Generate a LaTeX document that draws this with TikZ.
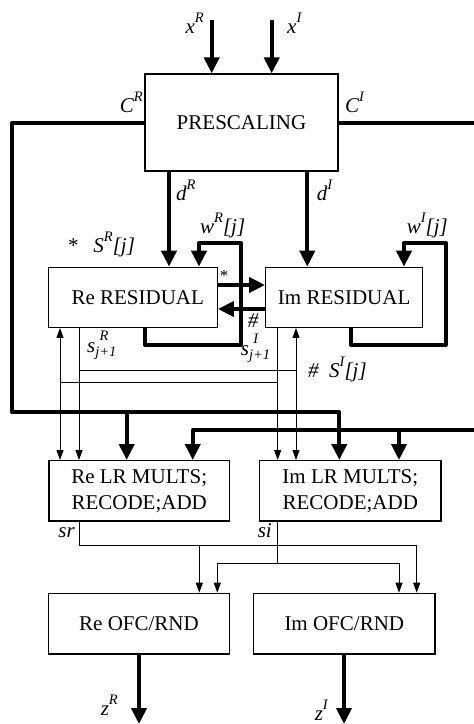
\documentclass[tikz,border=0pt]{standalone}
\usepackage{fontspec}
\setmainfont{Liberation Serif}
\usetikzlibrary{arrows.meta}
\newcommand{\Sup}[1]{\raisebox{0.5em}{\fontsize{14.5}{14.5}\selectfont\textit{#1}}}
\newcommand{\SupSub}[2]{\makebox[0pt][l]{\raisebox{0.55em}{\fontsize{14.5}{14.5}\selectfont\hspace{0.3em}\textit{#1}}}\raisebox{-0.2em}{\fontsize{14.5}{14.5}\selectfont\textit{#2}}}
\begin{document}
\begin{tikzpicture}[x=1pt,y=-1pt,
  font=\fontsize{21}{26}\selectfont,
  box/.style={draw,line width=1.3pt,inner sep=0pt,align=center},
  thickline/.style={line width=4pt,line join=round},
  bigarr/.style={thickline,-{Triangle[length=16pt,width=15pt]}},
  thinline/.style={line width=1pt},
  smallarr/.style={thinline,-{Triangle[length=10pt,width=7pt]}},
  dblarr/.style={thinline,{Triangle[length=10pt,width=7pt]}-{Triangle[length=10pt,width=7pt]}},
  lbl/.style={inner sep=0pt,font=\fontsize{21}{26}\selectfont\itshape}
]
\useasboundingbox (0,0) rectangle (474,724);

% boxes
\node[box,minimum width=193pt,minimum height=97pt] (pre) at (241.5,122.5) {PRESCALING};
\node[box,minimum width=169pt,minimum height=60pt] (reres) at (132.8,297.3) {\hspace*{10pt}Re RESIDUAL};
\node[box,minimum width=157pt,minimum height=60pt] (imres) at (344.2,297.3) {Im RESIDUAL};
\node[box,minimum width=180.3pt,minimum height=60.3pt] (relr) at (139.2,490.8) {Re LR MULTS;\\RECODE;ADD};
\node[box,minimum width=181.3pt,minimum height=60.3pt] (imlr) at (350.3,490.8) {Im LR MULTS;\\RECODE;ADD};
\node[box,minimum width=181.4pt,minimum height=60.7pt] (reofc) at (139,623.7) {Re OFC/RND};
\node[box,minimum width=181.3pt,minimum height=60.7pt] (imofc) at (344.3,623.7) {Im OFC/RND};

% inputs
\coordinate (xR) at (211.7,20);
\coordinate (xI) at (271.7,20);
\draw[bigarr] (xR) -- (xR |- pre.north);
\draw[bigarr] (xI) -- (xI |- pre.north);

% C^R bus
\coordinate (crL) at (12.3,412.3);
\coordinate (crR) at (339.3,412.3);
\coordinate (crB) at (126.7,412.3);
\draw[bigarr] (pre.west) -| (crL) -- (crR) -- (crR |- imlr.north);
\draw[bigarr] (crB) -- (crB |- relr.north);

% C^I bus
\coordinate (ciE) at (476,122.5);
\draw[thickline] (pre.east) -- (ciE);
\coordinate (ciR) at (476,430);
\coordinate (ciL) at (192.7,430);
\coordinate (ciB) at (399,430);
\draw[bigarr] (ciR) -- (ciL) -- (ciL |- relr.north);
\draw[bigarr] (ciB) -- (ciB |- imlr.north);

% d
\coordinate (dR) at (169,0);
\coordinate (dI) at (307.3,0);
\draw[bigarr] (pre.south -| dR) -- (reres.north -| dR);
\draw[bigarr] (pre.south -| dI) -- (imres.north -| dI);

% w loops
\coordinate (wR1) at (145,345);
\coordinate (wR2) at (240.7,242.7);
\coordinate (wR3) at (199,242.7);
\draw[bigarr] (reres.south -| wR1) -- (wR1) -| (wR2) -- (wR3) -- (wR3 |- reres.north);
\coordinate (wI1) at (350.7,345);
\coordinate (wI2) at (445.7,242.7);
\coordinate (wI3) at (404,242.7);
\draw[bigarr] (imres.south -| wI1) -- (wI1) -| (wI2) -- (wI3) -- (wI3 |- imres.north);

% cross arrows
\coordinate (ri) at (0,285);
\coordinate (ir) at (0,309);
\draw[bigarr] (reres.east |- ri) -- (imres.west |- ri);
\draw[bigarr] (imres.west |- ir) -- (reres.east |- ir);

% thin residual connections
\coordinate (a1) at (79,370.7);
\coordinate (a2) at (296,370.7);
\coordinate (b1) at (60,382.3);
\coordinate (b2) at (277.7,382.3);
\draw[smallarr] (reres.south -| a1) -- (relr.north -| a1);
\draw[thinline] (a1) -- (a2);
\draw[dblarr] (imres.south -| a2) -- (imlr.north -| a2);
\draw[smallarr] (imres.south -| b2) -- (imlr.north -| b2);
\draw[thinline] (b1) -- (b2);
\draw[dblarr] (reres.south -| b1) -- (relr.north -| b1);

% sr, si
\coordinate (sr1) at (79,545);
\coordinate (sr2) at (416.7,545);
\coordinate (sr3) at (199.3,545);
\draw[smallarr] (relr.south -| sr1) -- (sr1) -- (sr2) -- (sr2 |- imofc.north);
\draw[smallarr] (sr3) -- (sr3 |- reofc.north);
\coordinate (si1) at (277.7,563.3);
\coordinate (si2) at (217.3,563.3);
\coordinate (si3) at (399,563.3);
\draw[thinline] (imlr.south -| si1) -- (si1);
\draw[smallarr] (si1) -- (si2) -- (si2 |- reofc.north);
\draw[smallarr] (si1) -- (si3) -- (si3 |- imofc.north);

% outputs
\coordinate (zR) at (139,724);
\coordinate (zI) at (344,724);
\draw[bigarr] (reofc.south -| zR) -- (zR);
\draw[bigarr] (imofc.south -| zI) -- (zI);

% labels
\node[lbl,anchor=base east] (lxR) at (204,33) {x\Sup{R}};
\node[lbl,anchor=base west] (lxI) at (287,33) {x\Sup{I}};
\node[lbl,anchor=base east] (lcR) at (143,112) {C\Sup{R}};
\node[lbl,anchor=base west] (lcI) at (345,112) {C\Sup{I}};
\node[lbl,anchor=base west] (ldR) at (176,200) {d\Sup{R}};
\node[lbl,anchor=base west] (ldI) at (316.7,200) {d\Sup{I}};
\node[lbl,anchor=base west] (lsR) at (68,252) {\upshape *\hspace{0.7em}\itshape S\Sup{R}[j]};
\node[lbl,anchor=base west] (lwR) at (200,233) {w\Sup{R}[j]};
\node[lbl,anchor=base west] (lwI) at (406.7,233) {w\Sup{I}[j]};
\node[lbl,anchor=base,font=\fontsize{17}{17}\selectfont] (lst) at (224,281) {*};
\node[lbl,anchor=base] (lhash) at (253,327) {\#};
\node[lbl,anchor=base west] (lsR1) at (87,352) {s\SupSub{R}{j+1}};
\node[lbl,anchor=base west] (lsI1) at (240.7,355) {s\SupSub{I}{j+1}};
\node[lbl,anchor=base west] (lsI) at (308,377) {\#\hspace{0.5em}S\Sup{I}[j]};
\node[lbl,anchor=base east] (lsr) at (75,537) {sr};
\node[lbl,anchor=base east] (lsi) at (272,537) {si};
\node[lbl,anchor=base east] (lzR) at (118,715) {z\Sup{R}};
\node[lbl,anchor=base east] (lzI) at (328,720) {z\Sup{I}};
\end{tikzpicture}
\end{document}
